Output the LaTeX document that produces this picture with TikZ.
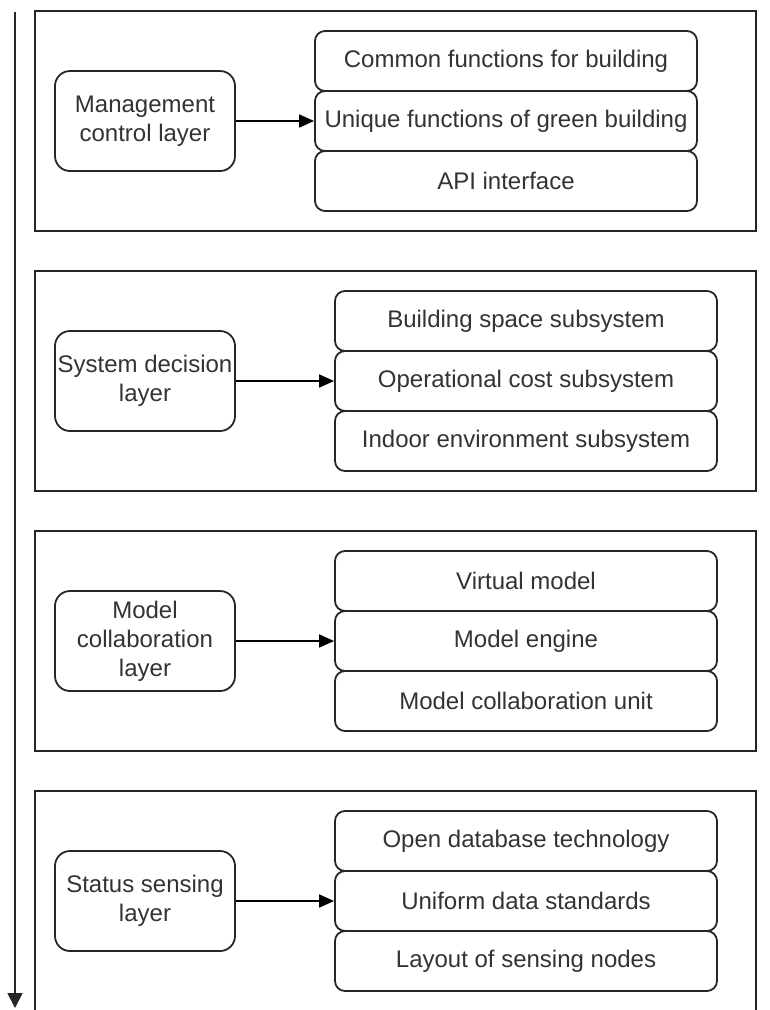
\documentclass[tikz,border=0pt]{standalone}
\usepackage{fontspec}
\setmainfont{Liberation Sans}
\usetikzlibrary{arrows.meta}

\tikzset{
  ink/.style={draw=black!85, line width=1.8pt},
  layerframe/.style={ink},
  layerbox/.style={ink, rounded corners=15pt, minimum width=180pt, minimum height=100pt,
                   align=center, inner sep=0pt, text=black!80,
                   font=\fontsize{24}{28.8}\selectfont},
  itembox/.style={ink, rounded corners=10pt, minimum width=382pt, minimum height=60pt,
                  align=center, inner sep=0pt, text=black!80,
                  font=\fontsize{24}{28.8}\selectfont},
  feed/.style={draw=black, line width=1.6pt, -{Triangle[length=15pt,width=13pt]}},
  flow/.style={draw=black!85, line width=1.8pt, -{Triangle[length=15pt,width=15pt]}}
}

\begin{document}
\begin{tikzpicture}[x=1pt, y=-1pt]
  \useasboundingbox (0,0) rectangle (769,1010);
  \clip (0,0) rectangle (769,1010);
  \fill[white] (0,0) rectangle (769,1010);

  % overall top-down direction
  \coordinate (flowtop) at (15,12);
  \coordinate (flowend) at (15,1008);
  \draw[flow] (flowtop) -- (flowend);

  % layer frames
  \draw[layerframe] (35,11)  rectangle (756,231);
  \draw[layerframe] (35,271) rectangle (756,491);
  \draw[layerframe] (35,531) rectangle (756,751);
  \draw[layerframe] (35,791) rectangle (756,1040);

  % management control layer
  \node[layerbox] (mgmt) at (145,121) {Management\\control layer};
  \node[itembox] (m1) at (506,61)  {Common functions for building};
  \node[itembox] (m2) at (506,121) {Unique functions of green building};
  \node[itembox] (m3) at (506,181) {API interface};
  \draw[feed] (mgmt.east) -- (m2.west);

  % system decision layer
  \node[layerbox] (sys) at (145,381) {System decision\\layer};
  \node[itembox] (s1) at (526,321) {Building space subsystem};
  \node[itembox] (s2) at (526,381) {Operational cost subsystem};
  \node[itembox] (s3) at (526,441) {Indoor environment subsystem};
  \draw[feed] (sys.east) -- (s2.west);

  % model collaboration layer
  \node[layerbox] (mdl) at (145,641) {Model\\collaboration\\layer};
  \node[itembox] (c1) at (526,581) {Virtual model};
  \node[itembox] (c2) at (526,641) {Model engine};
  \node[itembox] (c3) at (526,701) {Model collaboration unit};
  \draw[feed] (mdl.east) -- (c2.west);

  % status sensing layer
  \node[layerbox] (sen) at (145,901) {Status sensing\\layer};
  \node[itembox] (d1) at (526,841) {Open database technology};
  \node[itembox] (d2) at (526,901) {Uniform data standards};
  \node[itembox] (d3) at (526,961) {Layout of sensing nodes};
  \draw[feed] (sen.east) -- (d2.west);
\end{tikzpicture}
\end{document}
